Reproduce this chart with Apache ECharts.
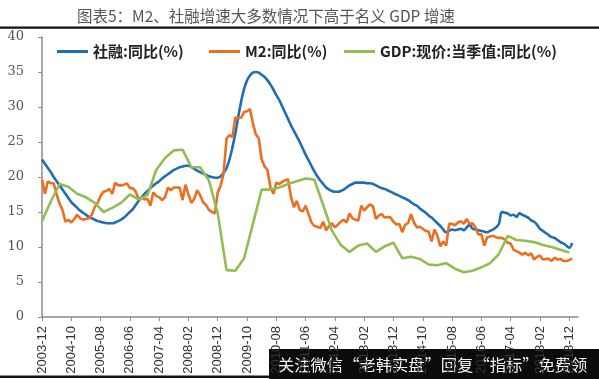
<!DOCTYPE html>
<html><head><meta charset="utf-8">
<script src="https://cdn.jsdelivr.net/npm/echarts@6/dist/echarts.min.js"></script>
<style>html,body{margin:0;padding:0;background:#fff}#c{width:599px;height:379px}</style>
</head><body><div id="c"></div>
<script>
// Monthly categories 2003-12 .. 2019-03
const startYear = 2003, startMonth = 12, nMonths = 184;
const categories = [];
for (let k = 0; k < nMonths; k++) {
  const m = (startMonth - 1 + k) % 12 + 1;
  const y = startYear + Math.floor((startMonth - 1 + k) / 12);
  categories.push(y + '-' + (m < 10 ? '0' + m : m));
}
const seriesNames = ['社融:同比(%)', 'M2:同比(%)', 'GDP:现价:当季值:同比(%)'];
// 社融 YoY, monthly 2003-12 .. 2019-01
const tsfYoY = [
 22.5,
 21.9,21.3,20.7,20.0,19.4,18.8,18.2,17.6,17.0,16.4,16.0,15.6,
 15.2,14.9,14.6,14.3,14.1,13.9,13.7,13.6,13.5,13.4,13.4,13.4,
 13.5,13.7,13.9,14.2,14.6,15.0,15.4,16.0,16.6,17.1,17.6,18.0,
 18.4,18.8,19.1,19.4,19.8,20.1,20.4,20.7,21.0,21.2,21.4,21.5,
 21.6,21.6,21.4,21.2,20.9,20.7,20.5,20.3,20.1,20.0,19.9,19.9,
 20.1,20.6,21.3,22.5,24.2,26.2,28.6,30.8,32.6,33.8,34.5,34.9,
 35.0,34.9,34.6,34.3,33.8,33.2,32.5,31.7,31.0,30.1,29.2,28.3,
 27.4,26.6,25.8,25.0,24.1,23.2,22.4,21.6,20.8,20.1,19.5,19.0,
 18.5,18.2,18.0,17.9,17.9,18.0,18.2,18.5,18.8,19.0,19.2,19.2,
 19.2,19.2,19.1,19.1,19.0,18.8,18.6,18.4,18.3,18.1,17.9,17.7,
 17.5,17.3,17.1,16.9,16.7,16.4,16.1,15.9,15.5,15.2,14.9,14.5,
 14.2,13.8,13.4,13.0,12.5,12.1,12.3,12.5,12.4,12.5,12.6,12.4,
 12.8,13.2,12.6,12.5,12.4,12.3,12.2,12.1,12.3,12.5,12.8,13.3,
 15.0,14.9,14.8,14.5,14.6,14.3,14.8,14.6,14.4,14.2,13.8,13.6,
 13.2,12.6,12.3,12.0,11.7,11.4,11.3,11.0,10.7,10.5,10.2,9.9,
 10.6
];
// M2 YoY, monthly 2003-12 .. 2019-01
const m2YoY = [
 19.6,
 17.6,19.4,19.1,19.1,17.5,16.2,15.3,13.6,13.9,13.5,14.0,14.6,
 14.1,13.9,14.0,14.1,14.6,15.7,16.3,17.3,17.9,18.0,18.3,17.6,
 19.2,18.8,18.8,18.9,19.1,18.4,18.4,17.9,16.8,17.1,16.8,16.9,
 15.9,17.8,17.3,17.1,16.7,17.1,18.5,18.1,18.5,18.5,18.5,16.7,
 18.9,17.5,16.3,16.9,18.1,17.4,16.4,16.0,15.3,15.0,14.8,17.8,
 18.8,20.5,25.5,26.0,25.7,28.5,28.4,28.5,29.3,29.4,29.7,27.7,
 26.1,25.5,22.5,21.5,21.0,18.5,17.6,19.2,19.0,19.3,19.5,19.7,
 17.2,15.7,16.6,15.3,15.1,15.9,14.7,13.5,13.0,12.9,12.7,13.6,
 12.4,13.0,13.4,12.8,13.2,13.6,13.9,13.5,14.8,14.1,13.9,13.8,
 15.9,15.2,15.7,16.1,15.8,14.0,14.5,14.7,14.2,14.3,14.2,13.6,
 13.2,13.3,12.1,13.2,13.4,14.7,13.5,12.8,12.9,12.6,12.3,12.2,
 10.8,12.5,11.6,10.1,10.8,10.2,13.3,13.3,13.1,13.5,13.7,13.3,
 14.0,13.3,13.4,12.8,11.8,11.8,10.2,11.4,11.5,11.6,11.4,11.3,
 11.3,11.1,10.6,10.5,9.6,9.4,9.2,8.9,9.2,8.8,9.1,8.2,
 8.6,8.8,8.2,8.3,8.3,8.0,8.5,8.2,8.3,8.0,8.0,8.1,
 8.4
];
// Nominal GDP YoY, quarterly 2003-12, 2004-03, ... 2018-12
const gdpQuarterly = [
 13.7,
 16.5,19.0,18.6,17.6,
 17.1,16.3,15.0,15.6,
 16.3,17.5,16.8,17.4,
 21.0,22.7,23.8,23.9,
 21.4,21.4,19.5,14.8,
 6.7,6.6,8.4,13.3,
 18.2,18.2,18.5,19.0,
 19.4,19.8,19.6,16.0,
 12.3,10.3,9.3,10.2,
 10.5,9.3,10.1,10.6,
 8.4,8.6,8.3,7.5,
 7.4,7.7,6.9,6.4,
 6.6,7.1,7.7,9.0,
 11.6,11.0,10.9,10.7,
 10.3,10.0,9.6,9.2
];
const yTicks = {min: 0, max: 40, interval: 5};

const gdpMonthly = categories.map(() => null);
gdpQuarterly.forEach((v, q) => { gdpMonthly[q * 3] = v; });

const colors = ['#1f6db5', '#eb6f20', '#93bc55'];
const chart = echarts.init(document.getElementById('c'), null, {renderer: 'canvas'});
const legendBase = {
  top: 39, itemWidth: 31, itemHeight: 3, icon: 'rect', itemGap: 10,
  textStyle: {fontFamily: 'Noto Sans CJK SC', fontSize: 15, fontWeight: 'bold', color: '#222'}
};
chart.setOption({
  animation: false,
  color: colors,
  title: {
    text: '图表5：M2、社融增速大多数情况下高于名义 GDP 增速',
    left: 72, top: 3,
    textStyle: {fontFamily: 'Noto Sans CJK SC', fontSize: 15.5, fontWeight: 'normal', color: '#555'}
  },
  legend: [
    Object.assign({}, legendBase, {left: 52, data: [seriesNames[0]]}),
    Object.assign({}, legendBase, {left: 204, data: [seriesNames[1]]}),
    Object.assign({}, legendBase, {left: 339, data: [seriesNames[2]]})
  ],
  grid: {left: 42, right: 21, top: 37, bottom: 62, containLabel: false},
  xAxis: {
    type: 'category', data: categories, boundaryGap: false,
    axisLine: {lineStyle: {color: '#8c8c8c', width: 1.5}},
    axisTick: {interval: 9, length: 4, lineStyle: {color: '#8c8c8c'}},
    axisLabel: {interval: 9, rotate: 90, margin: 9, color: '#333', fontSize: 13,
      fontFamily: 'Liberation Sans Narrow, Arial Narrow, Liberation Sans, Arial'},
    splitLine: {show: false}
  },
  yAxis: {
    type: 'value', min: yTicks.min, max: yTicks.max, interval: yTicks.interval,
    axisLine: {show: true, lineStyle: {color: '#8c8c8c', width: 1.5}},
    axisTick: {show: true, length: 4, lineStyle: {color: '#8c8c8c'}},
    axisLabel: {margin: 18, color: '#555', fontSize: 13, fontFamily: 'DejaVu Serif'},
    splitLine: {show: false}
  },
  series: [
    {name: seriesNames[0], type: 'line', data: tsfYoY, showSymbol: false, smooth: 0.4,
      lineStyle: {width: 2.6, color: colors[0]}},
    {name: seriesNames[1], type: 'line', data: m2YoY, showSymbol: false,
      lineStyle: {width: 2.6, color: colors[1]}},
    {name: seriesNames[2], type: 'line', data: gdpMonthly, showSymbol: false, connectNulls: true,
      lineStyle: {width: 2.6, color: colors[2]}}
  ],
  graphic: [
    {type: 'rect', shape: {x: 0, y: 26.5, width: 599, height: 2.2}, style: {fill: '#111'}},
    {type: 'rect', shape: {x: 0, y: 375.5, width: 599, height: 2.5}, style: {fill: '#111'}},
    {type: 'rect', shape: {x: 269, y: 349, width: 330, height: 30}, style: {fill: '#0c0c0c'}},
    {type: 'text', x: 278, y: 365, style: {text: '关注微信“老韩实盘”回复“指标”免费领',
      fill: '#f2f2f2', fontSize: 16.3, fontFamily: 'Noto Sans CJK SC', textVerticalAlign: 'middle'}}
  ]
});
</script></body></html>
